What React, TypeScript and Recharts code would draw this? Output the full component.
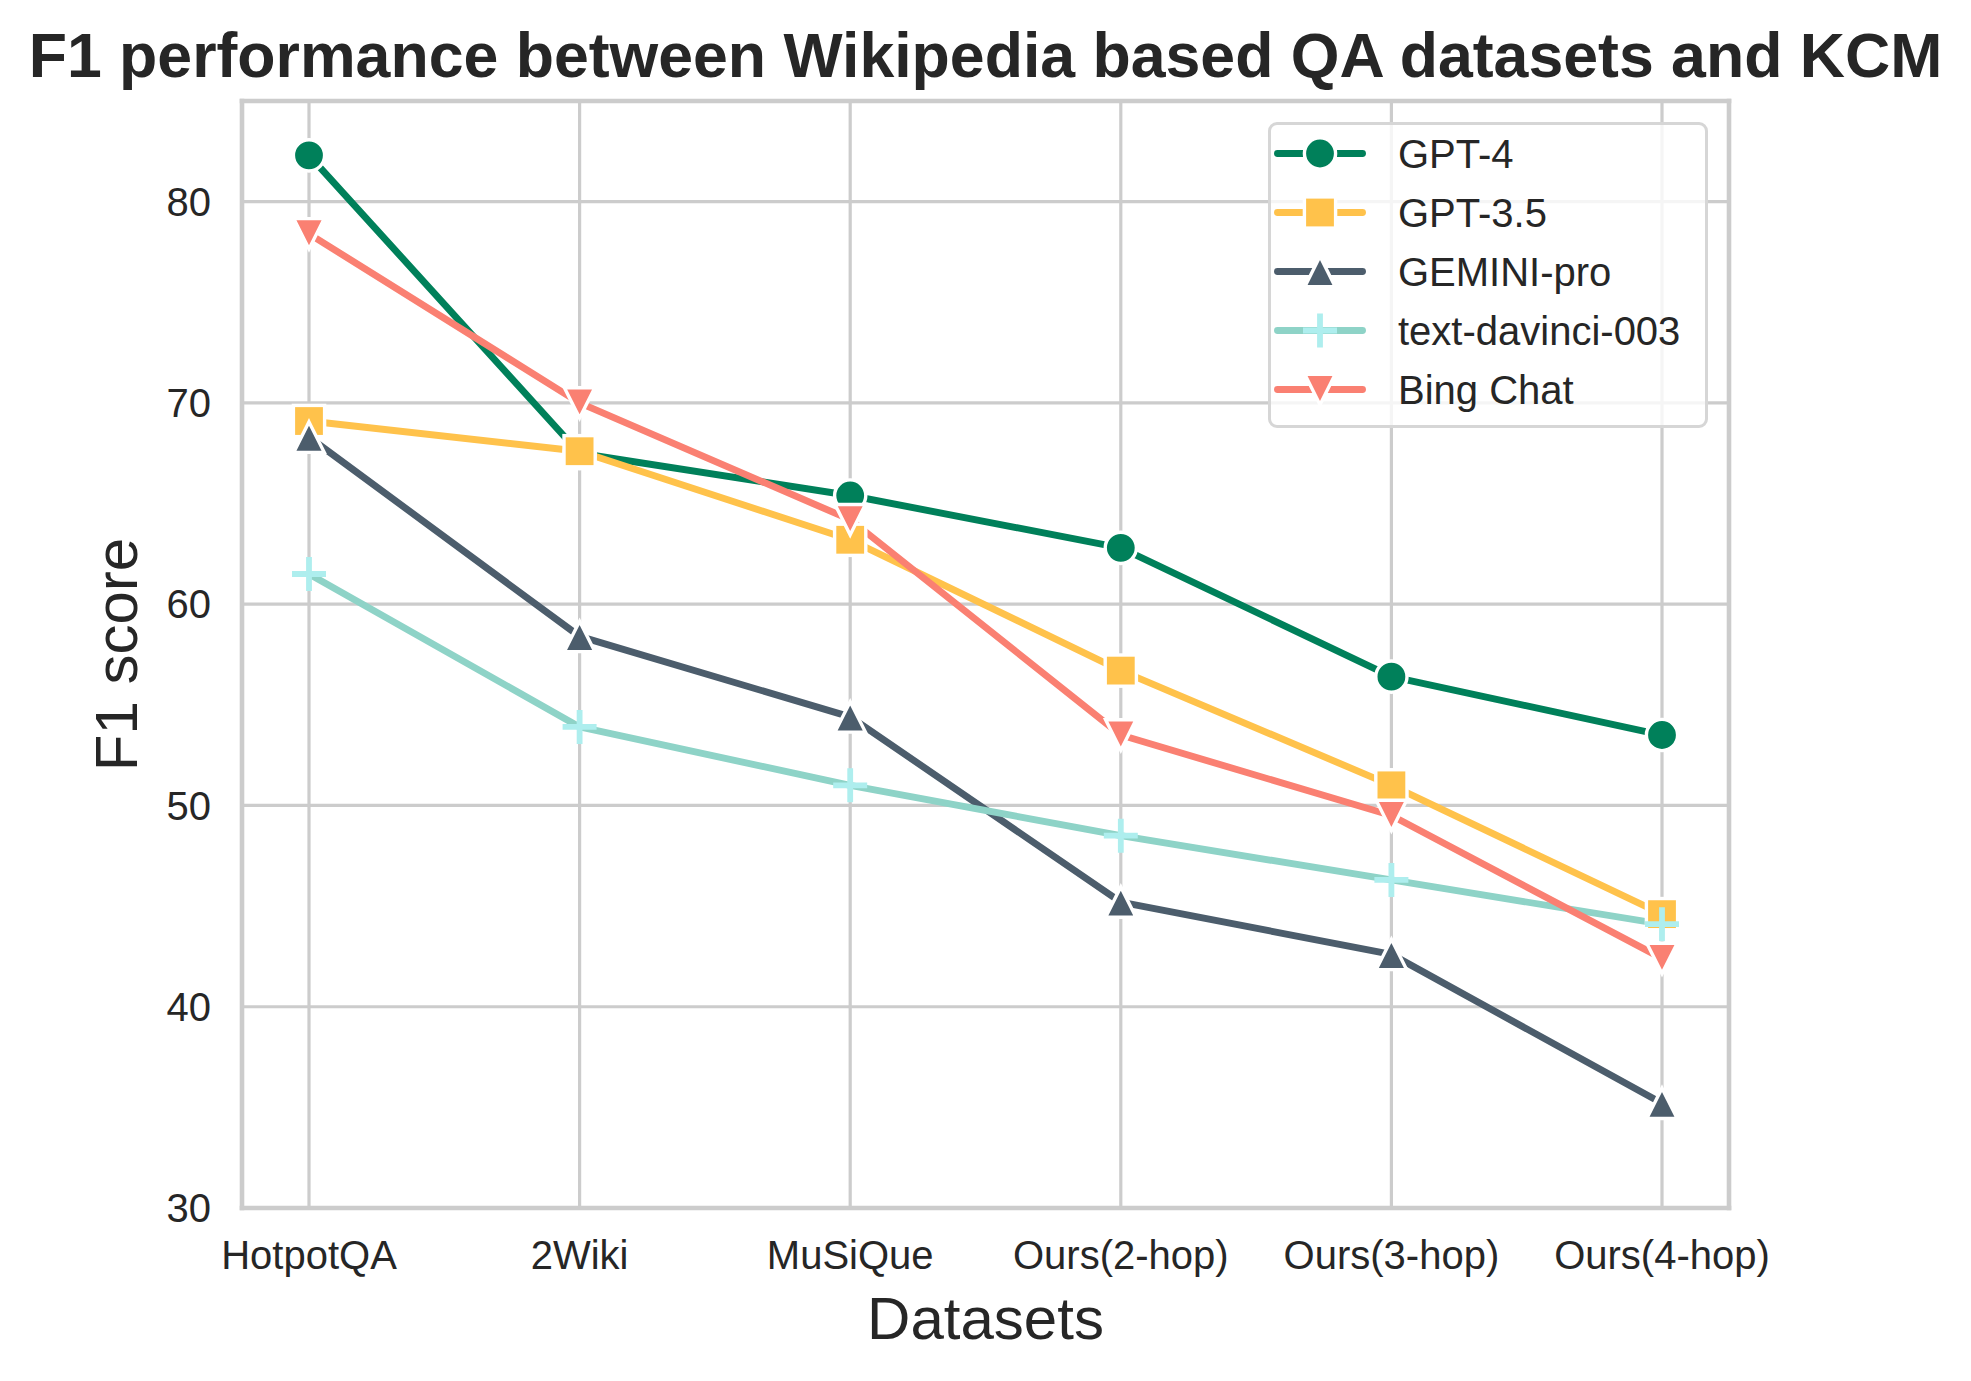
import React from 'react';
import { LineChart, Line, XAxis, YAxis, CartesianGrid, Legend } from 'recharts';

const datasets = ['HotpotQA', '2Wiki', 'MuSiQue', 'Ours(2-hop)', 'Ours(3-hop)', 'Ours(4-hop)'];
const gpt4 = [82.3, 67.5, 65.4, 62.8, 56.4, 53.5];
const gpt35 = [69.1, 67.6, 63.2, 56.7, 51.0, 44.6];
const gemini = [68.3, 58.4, 54.4, 45.2, 42.6, 35.2];
const davinci = [61.5, 53.9, 51.0, 48.5, 46.3, 44.1];
const bing = [78.4, 70.0, 64.2, 53.5, 49.5, 42.4];
const yTicks = [30, 40, 50, 60, 70, 80];

const FONT = '"Liberation Sans", Arial, Helvetica, sans-serif';
const INK = '#262626';
const GRID = '#cccccc';
const LINE_W = 6.9;
const EDGE_W = 3.4;

type Shape = 'circle' | 'square' | 'triangle-up' | 'plus' | 'triangle-down';

const series: { key: string; name: string; color: string; markerColor: string; shape: Shape }[] = [
  { key: 'gpt4', name: 'GPT-4', color: '#00805a', markerColor: '#00805a', shape: 'circle' },
  { key: 'gpt35', name: 'GPT-3.5', color: '#ffc24b', markerColor: '#ffc24b', shape: 'square' },
  { key: 'gemini', name: 'GEMINI-pro', color: '#4c5d6c', markerColor: '#4c5d6c', shape: 'triangle-up' },
  { key: 'davinci', name: 'text-davinci-003', color: '#8ed3c7', markerColor: '#aeeeee', shape: 'plus' },
  { key: 'bing', name: 'Bing Chat', color: '#fa8072', markerColor: '#fa8072', shape: 'triangle-down' },
];

const data = datasets.map((d, i) => ({
  dataset: d,
  gpt4: gpt4[i],
  gpt35: gpt35[i],
  gemini: gemini[i],
  davinci: davinci[i],
  bing: bing[i],
}));

const Marker = ({ shape, cx, cy, color }: { shape: Shape; cx: number; cy: number; color: string }) => {
  if (cx == null || cy == null) return null;
  switch (shape) {
    case 'circle':
      return <circle cx={cx} cy={cy} r={15.6} fill={color} stroke="#fff" strokeWidth={EDGE_W} />;
    case 'square':
      return <rect x={cx - 15.6} y={cy - 15.6} width={31.2} height={31.2} fill={color} stroke="#fff" strokeWidth={EDGE_W} />;
    case 'triangle-up':
      return (
        <path
          d={`M${cx},${cy - 15.2} L${cx + 15.2},${cy + 15.2} L${cx - 15.2},${cy + 15.2} Z`}
          fill={color}
          stroke="#fff"
          strokeWidth={EDGE_W}
        />
      );
    case 'triangle-down':
      return (
        <path
          d={`M${cx},${cy + 15.2} L${cx + 15.2},${cy - 15.2} L${cx - 15.2},${cy - 15.2} Z`}
          fill={color}
          stroke="#fff"
          strokeWidth={EDGE_W}
        />
      );
    case 'plus':
      return (
        <path
          d={`M${cx - 17},${cy} H${cx + 17} M${cx},${cy - 17} V${cy + 17}`}
          stroke={color}
          strokeWidth={5.8}
          fill="none"
        />
      );
    default:
      return null;
  }
};

const renderLegend = () => (
  <div
    style={{
      boxSizing: 'border-box',
      width: 440,
      height: 306,
      border: '3px solid #d6d6d6',
      borderRadius: 9,
      background: 'rgba(255,255,255,0.8)',
      fontFamily: FONT,
    }}
  >
    {series.map((s, i) => (
      <div key={s.key} style={{ display: 'flex', alignItems: 'center', height: 59, marginTop: i === 0 ? -1 : 0 }}>
        <svg width={92} height={59} style={{ marginLeft: 3, marginRight: 32, flex: 'none' }}>
          <line x1={3.5} x2={88.5} y1={29.5} y2={29.5} stroke={s.color} strokeWidth={LINE_W} strokeLinecap="round" />
          <Marker shape={s.shape} cx={46} cy={29.5} color={s.markerColor} />
        </svg>
        <span style={{ fontSize: 40, lineHeight: 1, color: INK }}>{s.name}</span>
      </div>
    ))}
  </div>
);

const frameLine = { stroke: GRID, strokeWidth: 4.6, strokeLinecap: 'square' as const };
const tickStyle = { fill: INK, fontSize: 40, fontFamily: FONT };

export default function App() {
  return (
    <div style={{ position: 'absolute', left: 0, top: 0, width: 1971, height: 1381, background: '#fff' }}>
      <LineChart
        width={1971}
        height={1381}
        data={data}
        margin={{ top: 100, right: 241, bottom: 113, left: 162 }}
      >
        <CartesianGrid stroke={GRID} strokeWidth={3.2} />
        <XAxis
          dataKey="dataset"
          interval={0}
          height={60}
          padding={{ left: 67, right: 67 }}
          tick={tickStyle}
          tickLine={false}
          tickSize={0}
          tickMargin={33}
          axisLine={frameLine}
        />
        <XAxis
          xAxisId="top"
          orientation="top"
          dataKey="dataset"
          height={1}
          padding={{ left: 67, right: 67 }}
          tick={false}
          tickLine={false}
          axisLine={frameLine}
        />
        <YAxis
          type="number"
          domain={[30, 85]}
          ticks={yTicks}
          allowDataOverflow
          width={80}
          tick={tickStyle}
          tickLine={false}
          tickSize={0}
          tickMargin={31}
          axisLine={frameLine}
        />
        <YAxis
          yAxisId="right"
          orientation="right"
          type="number"
          domain={[30, 85]}
          width={1}
          tick={false}
          tickLine={false}
          axisLine={frameLine}
        />
        <Legend
          layout="vertical"
          align="center"
          verticalAlign="middle"
          content={renderLegend}
          wrapperStyle={{ top: 122, left: 1268, width: 440, height: 306, right: 'auto', bottom: 'auto' }}
        />
        {series.map((s) => (
          <Line
            key={s.key}
            dataKey={s.key}
            name={s.name}
            type="linear"
            stroke={s.color}
            strokeWidth={LINE_W}
            strokeLinejoin="round"
            isAnimationActive={false}
            activeDot={false}
            dot={(p: any) => (
              <Marker key={`${s.key}-${p.index}`} shape={s.shape} cx={p.cx} cy={p.cy} color={s.markerColor} />
            )}
          />
        ))}
      </LineChart>
      <svg
        width={1971}
        height={1381}
        style={{ position: 'absolute', left: 0, top: 0, pointerEvents: 'none' }}
        fontFamily={FONT}
      >
        <text x={985.5} y={77} textAnchor="middle" fontSize={62.6} fontWeight="bold" fill={INK}>
          F1 performance between Wikipedia based QA datasets and KCM
        </text>
        <text x={985.5} y={1339} textAnchor="middle" fontSize={60} fill={INK}>
          Datasets
        </text>
        <text x={137} y={654.5} textAnchor="middle" fontSize={60} fill={INK} transform="rotate(-90 137 654.5)">
          F1 score
        </text>
      </svg>
    </div>
  );
}
